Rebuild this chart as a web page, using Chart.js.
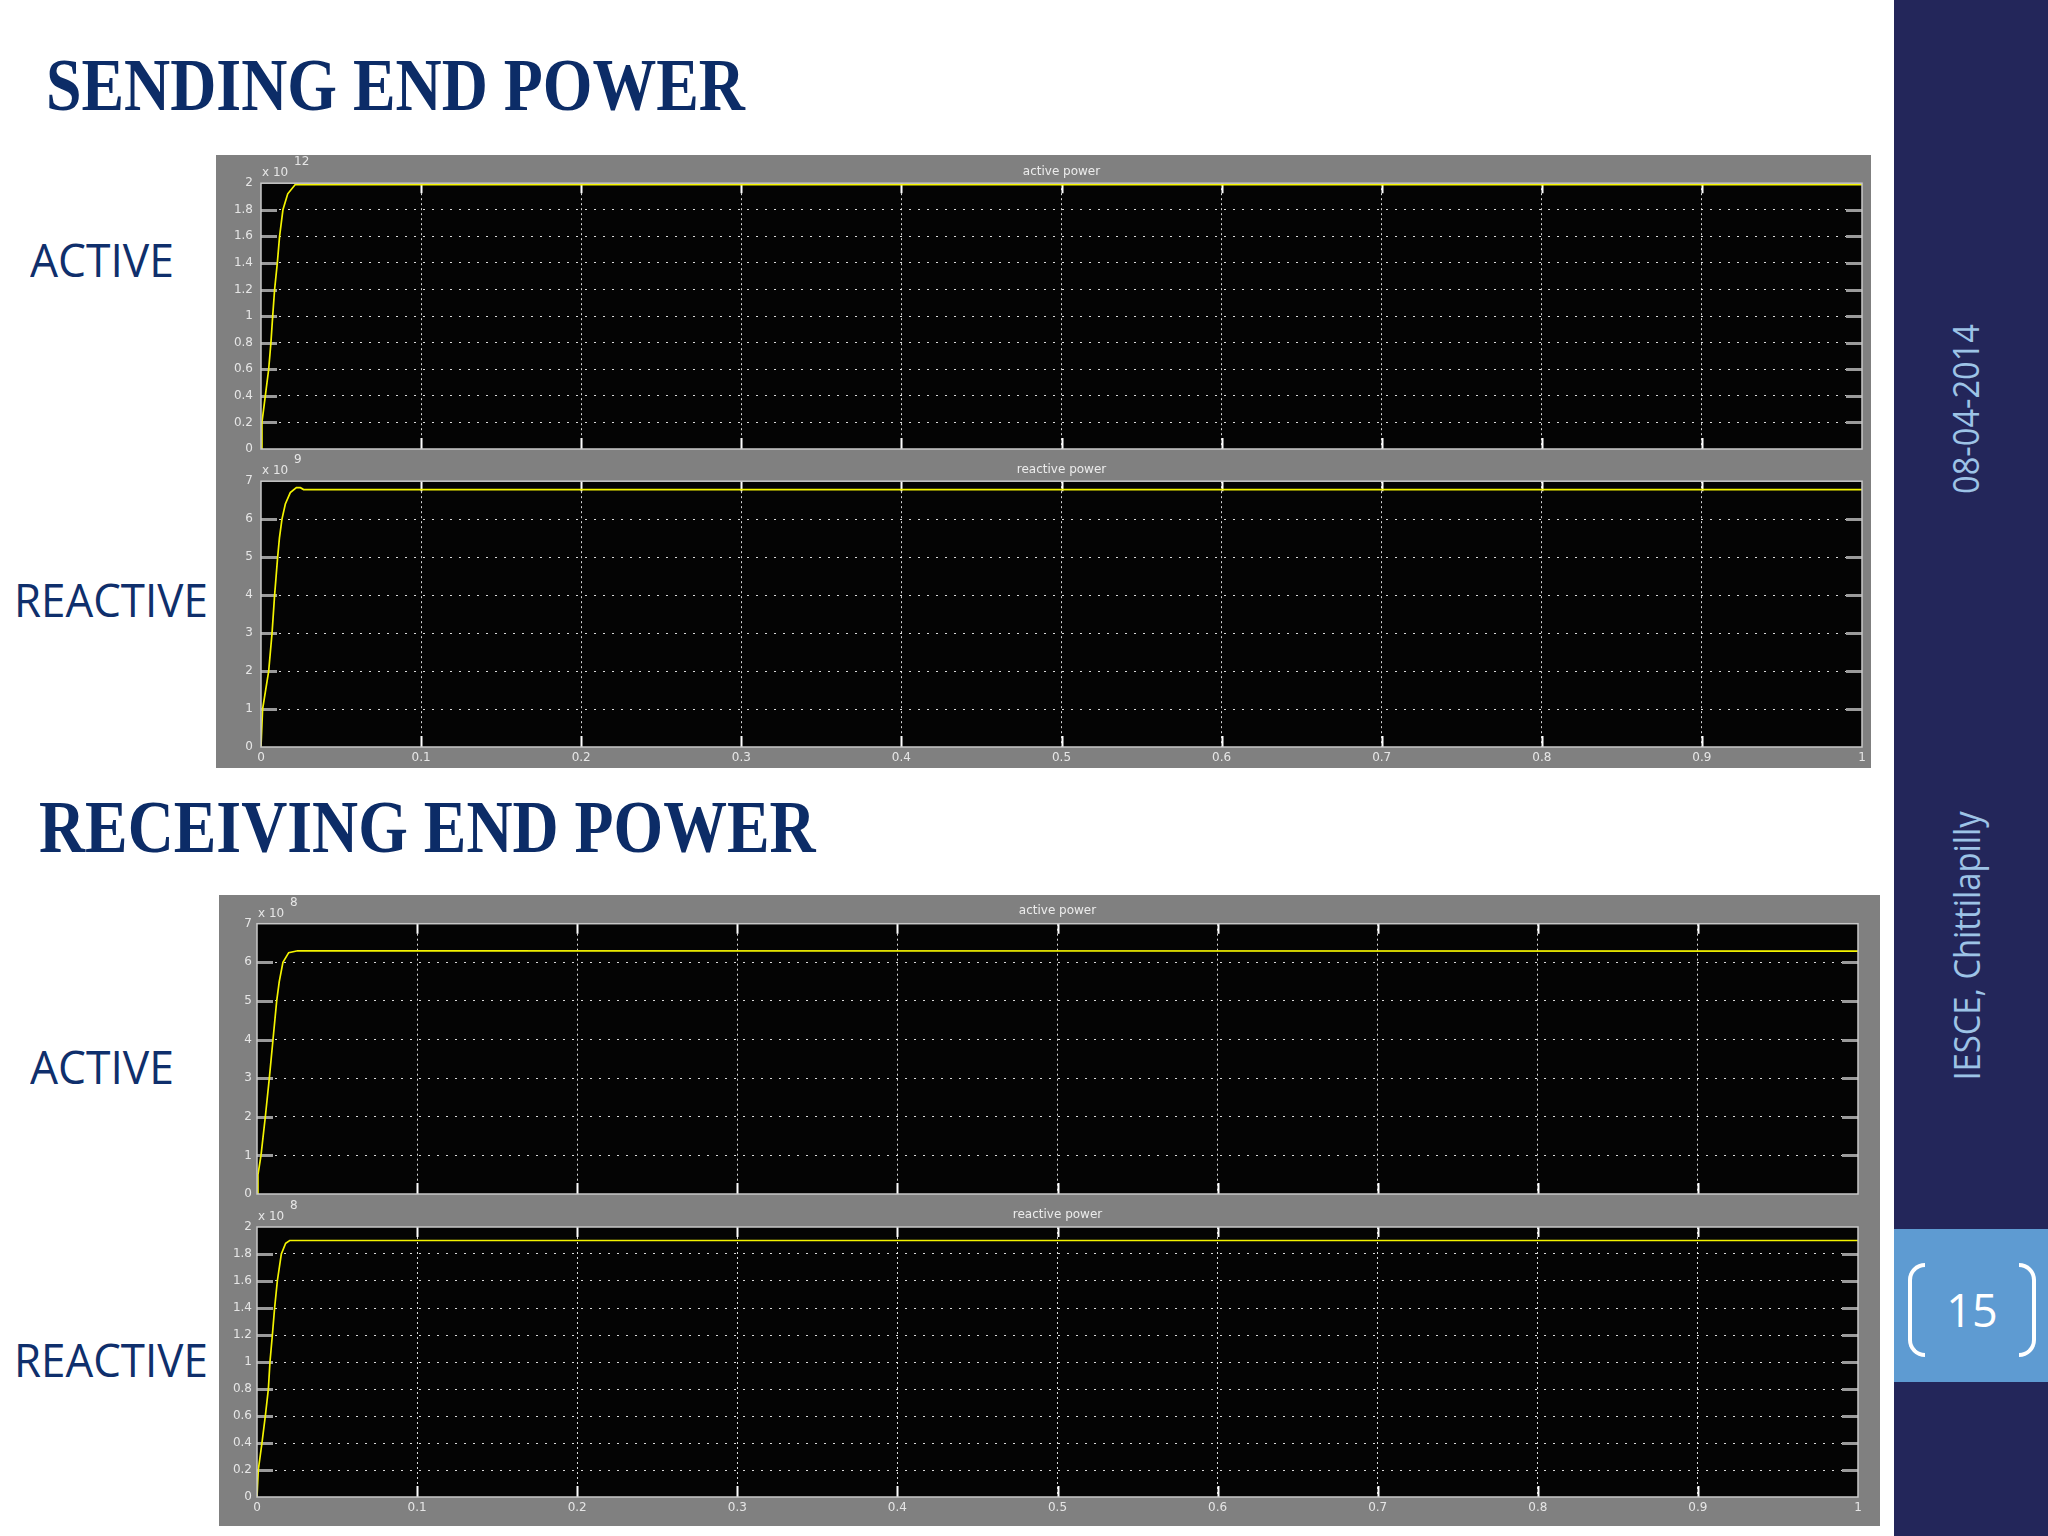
<!DOCTYPE html>
<html><head><meta charset="utf-8">
<script src="https://cdn.jsdelivr.net/npm/chart.js@4.4.1/dist/chart.umd.min.js"></script>
<style>
html,body{margin:0;padding:0;background:#fff;}
#slide{position:relative;width:2048px;height:1536px;overflow:hidden;background:#fff;}
.abs{position:absolute;}
.title{position:absolute;font-family:"Liberation Serif","Times New Roman",serif;font-weight:bold;font-size:75px;line-height:75px;color:#0c2c67;white-space:nowrap;transform-origin:0 0;}
.lab{position:absolute;font-family:"Open Sans",sans-serif;font-size:45px;line-height:45px;color:#0f2f6c;white-space:nowrap;transform-origin:0 0;}
.panel{position:absolute;background:#808080;}
canvas{position:absolute;}
.rot{position:absolute;font-family:"Open Sans",sans-serif;font-size:36px;line-height:36px;color:#9dc3e6;white-space:nowrap;}
</style></head>
<body><div id="slide">
<div class="title" id="t1" style="left:46px;top:47px;">SENDING END POWER</div>
<div class="title" id="t2" style="left:39px;top:789px;">RECEIVING END POWER</div>
<div class="lab" id="l1" style="left:30px;top:237px;">ACTIVE</div>
<div class="lab" id="l2" style="left:14px;top:577px;">REACTIVE</div>
<div class="lab" id="l3" style="left:30px;top:1044px;">ACTIVE</div>
<div class="lab" id="l4" style="left:14px;top:1337px;">REACTIVE</div>

<div class="panel" style="left:216px;top:155px;width:1655px;height:613px;"></div>
<div class="panel" style="left:219px;top:895px;width:1661px;height:631px;"></div>

<canvas id="c1" width="1655" height="310" style="left:216px;top:155px;"></canvas>
<canvas id="c2" width="1655" height="315" style="left:216px;top:453px;"></canvas>
<canvas id="c3" width="1661" height="315" style="left:219px;top:895px;"></canvas>
<canvas id="c4" width="1661" height="328" style="left:219px;top:1198px;"></canvas>

<div class="abs" style="left:1894px;top:0;width:154px;height:1536px;background:#23265a;"></div>
<div class="abs" style="left:1894px;top:1229px;width:154px;height:153px;background:#5e9bd2;"></div>
<div class="abs" style="left:1908px;top:1263px;width:17px;height:94px;box-sizing:border-box;border:4px solid #fff;border-right:none;border-radius:17px 0 0 17px;"></div>
<div class="abs" style="left:2019px;top:1263px;width:17px;height:94px;box-sizing:border-box;border:4px solid #fff;border-left:none;border-radius:0 17px 17px 0;"></div>
<div class="abs" style="left:1894px;top:1287px;width:156px;text-align:center;font-family:'Open Sans',sans-serif;font-size:45px;line-height:45px;color:#fff;">15</div>
<div class="rot" id="r1" style="left:1966px;top:409px;">08-04-2014</div>
<div class="rot" id="r2" style="left:1967px;top:946px;">IESCE, Chittilapilly</div>
</div>
<script>
// ---- data (y in units of the axis multiplier) ----
const xTickValues = [0, 0.1, 0.2, 0.3, 0.4, 0.5, 0.6, 0.7, 0.8, 0.9, 1];
const xTickLabels = ['0', '0.1', '0.2', '0.3', '0.4', '0.5', '0.6', '0.7', '0.8', '0.9', '1'];

const ticks0to2 = [0, 0.2, 0.4, 0.6, 0.8, 1, 1.2, 1.4, 1.6, 1.8, 2];
const labels0to2 = ['0', '0.2', '0.4', '0.6', '0.8', '1', '1.2', '1.4', '1.6', '1.8', '2'];
const ticks0to7 = [0, 1, 2, 3, 4, 5, 6, 7];
const labels0to7 = ['0', '1', '2', '3', '4', '5', '6', '7'];

const panelTitles = ['active power', 'reactive power', 'active power', 'reactive power'];
const exponents = ['12', '9', '8', '8'];

const sendActiveT = [0, 0.0006, 0.0027, 0.0048, 0.0062, 0.0073, 0.0085, 0.0102, 0.0116, 0.0137, 0.0167, 0.0214, 1];
const sendActiveV = [0, 0.2, 0.4, 0.6, 0.8, 1.0, 1.2, 1.4, 1.6, 1.8, 1.92, 1.99, 1.99];

const sendReactiveT = [0, 0.001, 0.0048, 0.0069, 0.0085, 0.0104, 0.0115, 0.0131, 0.0152, 0.0183, 0.0221, 0.0246, 0.0266, 1];
const sendReactiveV = [0, 1, 2, 3, 4, 5, 5.5, 6, 6.4, 6.7, 6.83, 6.83, 6.78, 6.78];

const recvActiveT = [0, 0.0006, 0.0025, 0.0052, 0.0077, 0.0100, 0.0123, 0.0139, 0.0162, 0.0198, 0.0254, 1];
const recvActiveV = [0, 0.5, 1, 2, 3, 4, 5, 5.5, 6, 6.25, 6.3, 6.29];

const recvReactiveT = [0, 0.0008, 0.0031, 0.0052, 0.0071, 0.0081, 0.0096, 0.0110, 0.0127, 0.0152, 0.0179, 0.0204, 1];
const recvReactiveV = [0, 0.2, 0.4, 0.6, 0.8, 1.0, 1.2, 1.4, 1.6, 1.8, 1.88, 1.9, 1.9];

// ---- scope styling plugin ----
const scopePlugin = {
  id: 'scope',
  beforeDraw(chart) {
    const a = chart.chartArea, ctx = chart.ctx;
    ctx.save();
    ctx.fillStyle = '#040404';
    ctx.fillRect(a.left, a.top, a.right - a.left, a.bottom - a.top);
    ctx.restore();
  },
  beforeDatasetsDraw(chart) {
    const a = chart.chartArea, ctx = chart.ctx;
    const xs = chart.scales.x, ys = chart.scales.y;
    ctx.save();
    ctx.lineWidth = 2;
    ctx.strokeStyle = '#ffffff';
    xs.ticks.forEach(t => {
      if (t.value === xs.min || t.value === xs.max) return;
      const px = Math.round(xs.getPixelForValue(t.value)) + 0.5;
      ctx.beginPath();
      ctx.moveTo(px, a.top); ctx.lineTo(px, a.top + 10);
      ctx.moveTo(px, a.bottom - 11); ctx.lineTo(px, a.bottom);
      ctx.stroke();
    });
    ctx.lineWidth = 3;
    ctx.strokeStyle = '#9a9a9a';
    ys.ticks.forEach(t => {
      if (t.value === ys.min || t.value === ys.max) return;
      const py = Math.round(ys.getPixelForValue(t.value)) + 0.5;
      ctx.beginPath();
      ctx.moveTo(a.left, py); ctx.lineTo(a.left + 16, py);
      ctx.moveTo(a.right - 16, py); ctx.lineTo(a.right, py);
      ctx.stroke();
    });
    ctx.restore();
  },
  afterDatasetsDraw(chart, args, opts) {
    const a = chart.chartArea, ctx = chart.ctx;
    ctx.save();
    ctx.strokeStyle = '#c8c8c8';
    ctx.lineWidth = 1.5;
    ctx.strokeRect(a.left, a.top, a.right - a.left, a.bottom - a.top);
    ctx.fillStyle = '#e6e6e6';
    ctx.textBaseline = 'middle';
    ctx.font = '12px "DejaVu Sans"';
    ctx.fillText('x 10', a.left + 1, a.top - 10);
    ctx.fillText(opts.exp, a.left + 33, a.top - 21);
    ctx.restore();
  }
};

function makeChart(id, o) {
  const data = o.t.map((t, i) => ({ x: t, y: o.v[i] }));
  const yMax = o.yTicks[o.yTicks.length - 1];
  const gridCol = (vals) => (c) => (c.tick && (c.tick.value === vals[0] || c.tick.value === vals[vals.length - 1])) ? 'rgba(0,0,0,0)' : 'rgba(255,255,255,0.85)';
  return new Chart(document.getElementById(id), {
    type: 'line',
    data: { datasets: [{ data, borderColor: '#f4f400', borderWidth: 1.7, pointRadius: 0, tension: 0, fill: false }] },
    plugins: [scopePlugin],
    options: {
      responsive: false, animation: false, events: [],
      layout: { padding: { left: 0, right: o.right, top: 0, bottom: o.bottom || 0 } },
      plugins: {
        legend: { display: false }, tooltip: { enabled: false },
        title: { display: true, text: o.title, fullSize: false, color: '#ececec',
                 font: { family: 'DejaVu Sans', size: 12, weight: 'normal', lineHeight: 1.1 },
                 padding: { top: o.titleTop, bottom: o.titleBottom } },
        scope: { exp: o.exp }
      },
      scales: {
        x: {
          type: 'linear', min: 0, max: 1,
          afterBuildTicks: (s) => { s.ticks = xTickValues.map(v => ({ value: v })); },
          afterFit: (s) => { s.height = o.xHeight; },
          grid: { drawTicks: false, color: gridCol(xTickValues), lineWidth: 1 },
          border: { display: false, dash: [2, 3] },
          ticks: { display: o.showX, color: '#e6e6e6', padding: 4, maxRotation: 0, autoSkip: false,
                   font: { family: 'DejaVu Sans', size: 12 },
                   callback: (v, i) => xTickLabels[i] }
        },
        y: {
          type: 'linear', min: 0, max: yMax,
          afterBuildTicks: (s) => { s.ticks = o.yTicks.map(v => ({ value: v })); },
          afterFit: (s) => { s.width = o.yWidth; },
          grid: { drawTicks: false, color: gridCol(o.yTicks), lineWidth: 1 },
          border: { display: false, dash: [2, 7] },
          ticks: { color: '#e6e6e6', padding: o.yPad, autoSkip: false,
                   font: { family: 'DejaVu Sans', size: 12 },
                   callback: (v, i) => o.yLabels[i] }
        }
      }
    }
  });
}

makeChart('c1', { t: sendActiveT, v: sendActiveV, yTicks: ticks0to2, yLabels: labels0to2, title: panelTitles[0], exp: exponents[0],
  showX: false, yWidth: 45, yPad: 8, right: 9, xHeight: 16, titleTop: 10, titleBottom: 5 });
makeChart('c2', { t: sendReactiveT, v: sendReactiveV, yTicks: ticks0to7, yLabels: labels0to7, title: panelTitles[1], exp: exponents[1],
  showX: true, yWidth: 45, yPad: 8, right: 9, xHeight: 21, titleTop: 10, titleBottom: 5 });
makeChart('c3', { t: recvActiveT, v: recvActiveV, yTicks: ticks0to7, yLabels: labels0to7, title: panelTitles[2], exp: exponents[2],
  showX: false, yWidth: 38, yPad: 5, right: 22, xHeight: 16, titleTop: 9, titleBottom: 6.5 });
makeChart('c4', { t: recvReactiveT, v: recvReactiveV, yTicks: ticks0to2, yLabels: labels0to2, title: panelTitles[3], exp: exponents[3],
  showX: true, yWidth: 38, yPad: 5, right: 22, xHeight: 21, bottom: 8, titleTop: 10.5, titleBottom: 5.3 });

// ---- fit slide text widths ----
function fitX(id, w) { const el = document.getElementById(id); el.style.transform = 'scaleX(' + (w / el.offsetWidth) + ')'; }
function fitRot(id, len) { const el = document.getElementById(id); const s = len / el.offsetWidth;
  el.style.transform = 'translate(-50%,-50%) rotate(-90deg) scaleX(' + s + ')'; }
function fitAll() {
  fitX('t1', 699); fitX('t2', 777);
  fitX('l1', 144); fitX('l2', 194); fitX('l3', 144); fitX('l4', 194);
  fitRot('r1', 170); fitRot('r2', 269);
}
fitAll();
if (document.fonts && document.fonts.ready) document.fonts.ready.then(fitAll);
</script>
</body></html>
